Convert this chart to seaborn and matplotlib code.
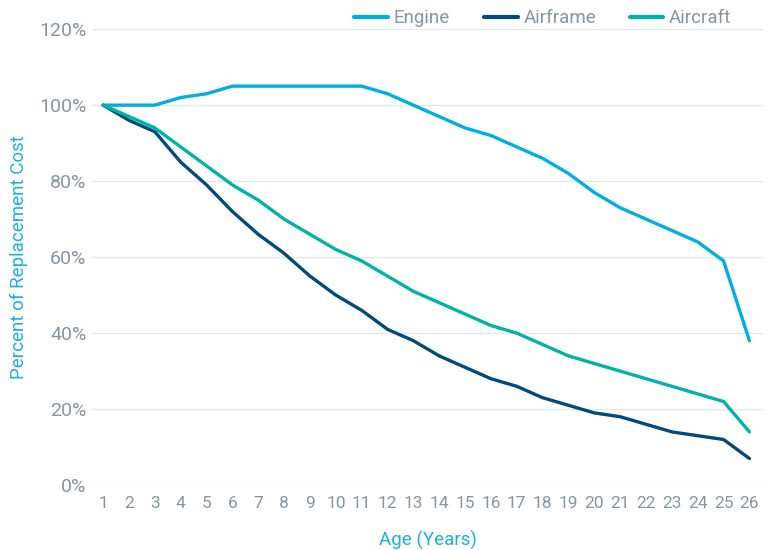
import numpy as np
import pandas as pd
import matplotlib
matplotlib.use("Agg")
import matplotlib.pyplot as plt
import seaborn as sns
from matplotlib.ticker import FuncFormatter

age = list(range(1, 27))
engine = [100, 100, 100, 102, 103, 105, 105, 105, 105, 105, 105, 103, 100, 97, 94, 92, 89, 86, 82, 77, 73, 70, 67, 64, 59, 38]
airframe = [100, 96, 93, 85, 79, 72, 66, 61, 55, 50, 46, 41, 38, 34, 31, 28, 26, 23, 21, 19, 18, 16, 14, 13, 12, 7]
aircraft = [100, 97, 94, 89, 84, 79, 75, 70, 66, 62, 59, 55, 51, 48, 45, 42, 40, 37, 34, 32, 30, 28, 26, 24, 22, 14]
series_names = ["Engine", "Airframe", "Aircraft"]
colors = ["#00AEE6", "#004A7C", "#00B3A8"]

df = pd.DataFrame({
    "Age": age * 3,
    "Value": engine + airframe + aircraft,
    "Series": [series_names[0]] * 26 + [series_names[1]] * 26 + [series_names[2]] * 26,
})

sns.set_theme(style="white")
plt.rcParams['font.family'] = ['Roboto', 'DejaVu Sans']
grey = "#8696A0"
blue_txt = "#1AB0E6"

fig = plt.figure(figsize=(7.68, 5.5), dpi=100)
ax = fig.add_axes([0.12, 0.118, 0.874, 0.829])

sns.lineplot(data=df, x="Age", y="Value", hue="Series", palette=dict(zip(series_names, colors)),
             linewidth=2.4, ax=ax, legend=True)

ax.set_ylim(0, 120)
ax.set_xlim(0.574, 26.54)
ax.set_yticks(range(0, 121, 20))
ax.yaxis.set_major_formatter(FuncFormatter(lambda v, p: f"{int(v)}%"))
ax.set_xticks(age)
ax.grid(axis="y", color="#E3E7EA", linewidth=1)
for s in ax.spines.values():
    s.set_visible(False)
ax.tick_params(axis="x", length=0, colors=grey, labelsize=12.5, pad=8)
ax.tick_params(axis="y", length=0, colors=grey, labelsize=14, pad=4)

ax.set_xlabel("Age (Years)", color=blue_txt, fontsize=13.5, labelpad=14)
ax.set_ylabel("Percent of Replacement Cost", color=blue_txt, fontsize=13.5, labelpad=8)

leg = ax.legend(loc="center", bbox_to_anchor=(0.707, 0.967), bbox_transform=fig.transFigure,
                ncol=3, frameon=False, fontsize=13.5, handlelength=1.8, columnspacing=1.8, handletextpad=0.3)
for t in leg.get_texts():
    t.set_color(grey)
for l in leg.get_lines():
    l.set_linewidth(3)

fig.savefig("out.png", dpi=100)
